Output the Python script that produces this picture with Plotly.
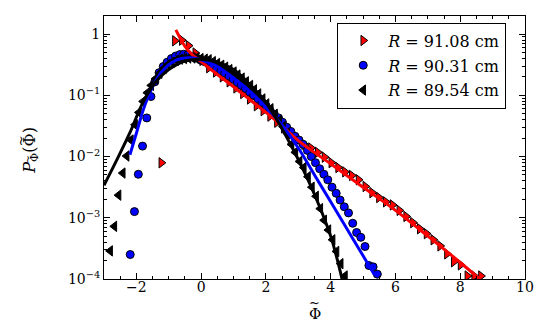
import plotly.graph_objects as go

# R = 91.08 cm (right-pointing triangles)
red_x = [-1.23, -0.81, -0.60, -0.39, -0.18, 0.03, 0.24, 0.45, 0.66, 0.87, 1.08, 1.29, 1.50, 1.71,
         1.92, 2.13, 2.34, 2.55, 2.76, 2.97, 3.18, 3.39, 3.60, 3.81, 4.02, 4.23, 4.44, 4.65,
         4.86, 5.07, 5.28, 5.49, 5.70, 5.91, 6.12, 6.33, 6.54, 6.75, 6.96, 7.17, 7.38, 7.59,
         7.80, 8.01, 8.22, 8.43, 8.64]
red_y = [0.0079, 0.776, 0.794, 0.646, 0.490, 0.372, 0.282, 0.240, 0.200, 0.166, 0.132, 0.107,
         0.0871, 0.0676, 0.0562, 0.0457, 0.0363, 0.0295, 0.0234, 0.0186, 0.0158, 0.0138, 0.0117,
         0.00977, 0.00794, 0.00661, 0.00562, 0.00490, 0.00417, 0.00324, 0.00257, 0.00214,
         0.00182, 0.00162, 0.00132, 0.00105, 0.000832, 0.000661, 0.000550, 0.000437, 0.000347,
         0.000257, 0.000191, 0.000170, 0.000112, 0.000112, 0.000112]

# R = 90.31 cm (circles)
blue_x = [-2.19, -2.06, -1.94, -1.81, -1.68, -1.55, -1.43, -1.30, -1.17, -1.05, -0.92, -0.79,
          -0.66, -0.54, -0.41, -0.28, -0.16, -0.03, 0.10, 0.23, 0.35, 0.48, 0.61, 0.73, 0.86,
          0.99, 1.12, 1.24, 1.37, 1.50, 1.62, 1.75, 1.88, 2.01, 2.13, 2.26, 2.39, 2.51, 2.64,
          2.77, 2.90, 3.02, 3.15, 3.28, 3.40, 3.53, 3.66, 3.79, 3.91, 4.04, 4.17, 4.29, 4.42,
          4.55, 4.68, 4.80, 4.93, 5.06, 5.18, 5.31, 5.44]
blue_y = [0.000251, 0.00126, 0.00513, 0.0148, 0.0427, 0.0955, 0.166, 0.234, 0.295, 0.347, 0.398,
          0.437, 0.462, 0.468, 0.457, 0.427, 0.407, 0.380, 0.355, 0.324, 0.295, 0.275, 0.251,
          0.229, 0.204, 0.182, 0.162, 0.145, 0.129, 0.112, 0.100, 0.0871, 0.0759, 0.0661,
          0.0562, 0.0490, 0.0427, 0.0363, 0.0302, 0.0257, 0.0214, 0.0186, 0.0158, 0.0126,
          0.0100, 0.00794, 0.00631, 0.00513, 0.00417, 0.00316, 0.00251, 0.00195, 0.00151,
          0.00120, 0.000813, 0.000575, 0.000479, 0.000339, 0.000166, 0.000158, 0.000120]

# R = 89.54 cm (left-pointing triangles)
black_x = [-2.81, -2.68, -2.55, -2.42, -2.30, -2.17, -2.04, -1.92, -1.79, -1.66, -1.54, -1.41,
           -1.28, -1.15, -1.03, -0.90, -0.77, -0.65, -0.52, -0.39, -0.26, -0.14, -0.01, 0.12,
           0.24, 0.37, 0.50, 0.63, 0.75, 0.88, 1.01, 1.13, 1.26, 1.39, 1.52, 1.64, 1.77, 1.90,
           2.02, 2.15, 2.28, 2.41, 2.53, 2.66, 2.79, 2.91, 3.04, 3.17, 3.30, 3.42, 3.55, 3.68,
           3.80, 3.93, 4.06, 4.18, 4.31, 4.44]
black_y = [0.000288, 0.000724, 0.00234, 0.00537, 0.0102, 0.0186, 0.0331, 0.0525, 0.0794, 0.110,
           0.145, 0.186, 0.229, 0.275, 0.316, 0.347, 0.372, 0.389, 0.398, 0.407, 0.407, 0.407,
           0.398, 0.389, 0.380, 0.355, 0.331, 0.309, 0.288, 0.263, 0.240, 0.214, 0.191, 0.166,
           0.145, 0.123, 0.105, 0.0871, 0.0724, 0.0603, 0.0490, 0.0389, 0.0309, 0.0240, 0.0158,
           0.0117, 0.00832, 0.00661, 0.00468, 0.00316, 0.00224, 0.00141, 0.000912, 0.000631,
           0.000437, 0.000282, 0.000178, 0.000112]

# fitted curves
red_fit_x = [-0.78, -0.5, -0.25, 0, 0.5, 1, 1.5, 2, 2.5, 3, 4, 5, 6, 7, 8, 8.6]
red_fit_y = [1.17, 0.63, 0.45, 0.355, 0.219, 0.138, 0.0851, 0.0525, 0.0316, 0.0182, 0.00759,
             0.00316, 0.00132, 0.000501, 0.000186, 0.0001]
blue_fit_x = [-2.2, -2.0, -1.75, -1.5, -1.25, -1.0, -0.75, -0.5, -0.25, 0, 0.5, 1.0, 1.5, 2.0,
              2.5, 3.0, 3.5, 4.0, 4.5, 5.0, 5.35]
blue_fit_y = [0.0107, 0.024, 0.0661, 0.138, 0.229, 0.316, 0.380, 0.407, 0.407, 0.380, 0.295,
              0.191, 0.117, 0.0646, 0.0324, 0.0138, 0.00501, 0.00182, 0.000661, 0.00024, 0.000117]
black_fit_x = [-3.0, -2.6, -2.2, -1.8, -1.4, -1.0, -0.5, 0, 0.5, 1.0, 1.5, 2.0, 2.5, 3.0, 3.5,
               4.0, 4.35]
black_fit_y = [0.00339, 0.00891, 0.0245, 0.0759, 0.166, 0.263, 0.363, 0.389, 0.347, 0.263, 0.151,
               0.0759, 0.0282, 0.00891, 0.0024, 0.000501, 0.0001]

labels = ["<i>R</i> = 91.08 cm", "<i>R</i> = 90.31 cm", "<i>R</i> = 89.54 cm"]

FONT = "DejaVu Serif"

fig = go.Figure()

fig.add_trace(go.Scatter(x=red_x, y=red_y, mode="markers", name=labels[0], legendgroup="a",
                         marker=dict(symbol="triangle-right", size=9, color="red",
                                     line=dict(color="black", width=1))))
fig.add_trace(go.Scatter(x=blue_x, y=blue_y, mode="markers", name=labels[1], legendgroup="b",
                         marker=dict(symbol="circle", size=8, color="blue",
                                     line=dict(color="black", width=1))))
fig.add_trace(go.Scatter(x=black_x, y=black_y, mode="markers", name=labels[2], legendgroup="c",
                         marker=dict(symbol="triangle-left", size=9, color="black",
                                     line=dict(color="black", width=1))))

for fx, fy, c in [(red_fit_x, red_fit_y, "red"), (blue_fit_x, blue_fit_y, "blue"),
                  (black_fit_x, black_fit_y, "black")]:
    fig.add_trace(go.Scatter(x=fx, y=fy, mode="lines", showlegend=False,
                             line=dict(color=c, width=3, shape="spline")))

minor_y = [m * 10 ** e for e in range(-4, 1) for m in range(2, 10)]


# pixel -> paper (plot area 104..517 x 16..271 in page pixels)
def ann(text, px, py, size, angle=0):
    return dict(text=text, xref="paper", yref="paper",
                x=(px - 104) / 413, y=(271 - py) / 255,
                xanchor="center", yanchor="middle", showarrow=False, textangle=angle,
                font=dict(family=FONT, size=size, color="black"))


# axis titles: tilde drawn as its own small text over each Phi
AX, AY = 31, 146
annotations = [
    ann("Φ", 310.5, 304.5, 15),
    ann("~", 310.5, 293.5, 13),
    ann("<i>P</i><sub>Φ</sub>(Φ)", AX, AY, 16, -90),
    ann("~", AX - 9, AY - 9, 13, -90),
    ann("~", AX - 2.5, AY + 9, 10, -90),
]

# page body has an 8px margin, so the figure is shifted by 8px; margins compensate
fig.update_layout(
    width=536, height=328,
    margin=dict(l=96, r=19, t=8, b=57),
    paper_bgcolor="white", plot_bgcolor="white",
    font=dict(family=FONT, size=14, color="black"),
    showlegend=True,
    legend=dict(x=0.554, y=0.975, xanchor="left", yanchor="top",
                bordercolor="black", borderwidth=1, bgcolor="white",
                font=dict(family=FONT, size=16), tracegroupgap=1,
                itemwidth=40),
    annotations=annotations,
    xaxis=dict(range=[-3, 10], tickvals=[-2, 0, 2, 4, 6, 8, 10], automargin=False,
               ticks="inside", ticklen=6, tickcolor="black", ticklabelstandoff=-5,
               minor=dict(dtick=0.5, ticks="inside", ticklen=3, tickcolor="black"),
               showline=True, linecolor="black", linewidth=1, mirror="allticks",
               showgrid=False, zeroline=False),
    yaxis=dict(type="log", range=[-4, 0.295], automargin=False,
               tickvals=[1e-4, 1e-3, 1e-2, 1e-1, 1],
               ticktext=["10<sup>−4</sup>", "10<sup>−3</sup>", "10<sup>−2</sup>",
                         "10<sup>−1</sup>", "1"],
               ticks="inside", ticklen=6, tickcolor="black",
               minor=dict(tickvals=minor_y, ticks="inside", ticklen=3, tickcolor="black"),
               showline=True, linecolor="black", linewidth=1, mirror="allticks",
               showgrid=False, zeroline=False),
)

fig.write_html("out.html")
